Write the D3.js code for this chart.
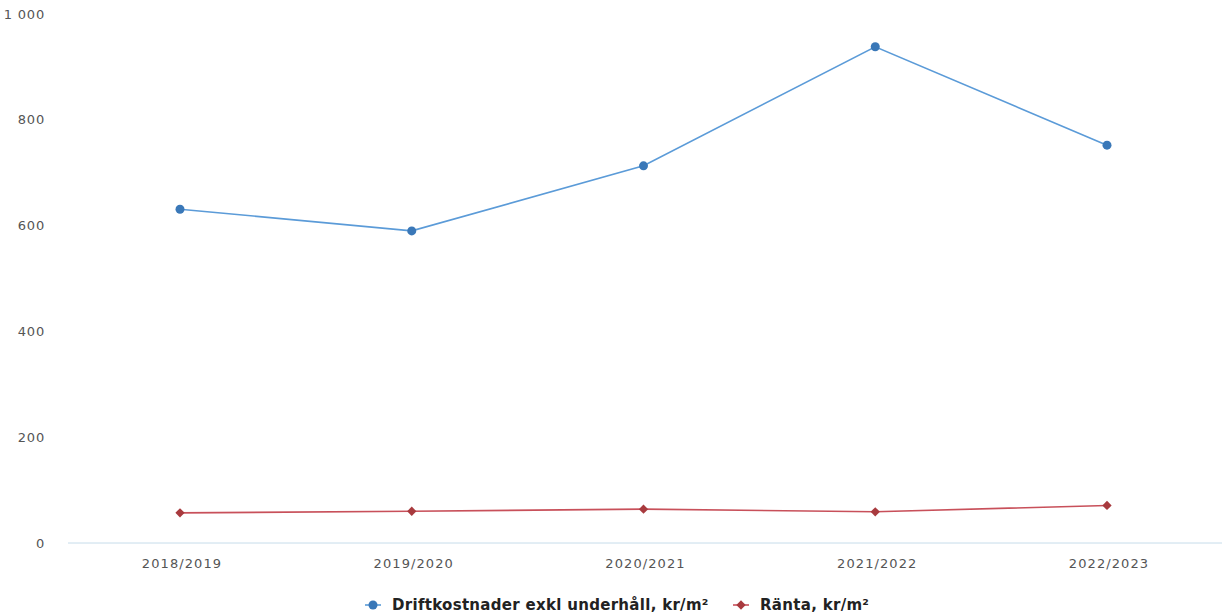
<!DOCTYPE html>
<html><head><meta charset="utf-8">
<script src="https://cdn.jsdelivr.net/npm/d3@7"></script>
<style>body{margin:0;background:#fff}svg{display:block}</style>
</head><body><svg id="c" width="1222" height="615"></svg>
<script>
const categories = ["2018/2019","2019/2020","2020/2021","2021/2022","2022/2023"];
const drift = [631, 590, 713, 938, 752];
const ranta = [57, 60, 64, 59, 71];
const yTicks = [0, 200, 400, 600, 800, 1000];
const seriesNames = ["Driftkostnader exkl underhåll, kr/m²", "Ränta, kr/m²"];

const svg = d3.select("#c");
const x = d3.scalePoint().domain(categories).range([180, 1107]);
const y = d3.scaleLinear().domain([0, 1000]).range([543, 14]);
const fmt = v => d3.format(",")(v).replace(/,/g, " ");

// y labels
svg.append("g").selectAll("text").data(yTicks).join("text")
  .attr("x", 45).attr("y", d => y(d)).attr("dy", "0.35em")
  .attr("text-anchor", "end").attr("fill", "#555")
  .style("font", "13px 'DejaVu Sans', sans-serif").style("letter-spacing","0.8px")
  .text(fmt);

// x axis line
svg.append("line").attr("x1", 68).attr("x2", 1222).attr("y1", y(0)).attr("y2", y(0))
  .attr("stroke", "#c6dcea").attr("stroke-width", 1);
svg.append("g").selectAll("text").data(categories).join("text")
  .attr("x", d => x(d) + 2).attr("y", 568).attr("text-anchor", "middle").attr("fill", "#555")
  .style("font", "13px 'DejaVu Sans', sans-serif").style("letter-spacing","1.1px")
  .text(d => d);

const line = d3.line().x((d, i) => x(categories[i])).y(d => y(d));
svg.append("path").datum(drift).attr("d", line).attr("fill", "none")
  .attr("stroke", "#5b9bd8").attr("stroke-width", 1.6);
svg.append("path").datum(ranta).attr("d", line).attr("fill", "none")
  .attr("stroke", "#c8505a").attr("stroke-width", 1.6);

svg.append("g").selectAll("circle").data(drift).join("circle")
  .attr("cx", (d, i) => x(categories[i])).attr("cy", d => y(d)).attr("r", 4.5)
  .attr("fill", "#3a78b8");
const diamond = d3.symbol().type(d3.symbolDiamond2).size(55);
svg.append("g").selectAll("path").data(ranta).join("path")
  .attr("transform", (d, i) => `translate(${x(categories[i])},${y(d)})`)
  .attr("d", diamond).attr("fill", "#a83a3e");

// legend
const lg = svg.append("g");
const items = [
  {name: seriesNames[0], lx: 365, stroke: "#5b9bd8", fill: "#3a78b8", sym: "circle"},
  {name: seriesNames[1], lx: 733, stroke: "#c8505a", fill: "#a83a3e", sym: "diamond"}
];
items.forEach(it => {
  const g = lg.append("g").attr("transform", `translate(${it.lx},605)`);
  g.append("line").attr("x1", 0).attr("x2", 16).attr("stroke", it.stroke).attr("stroke-width", 1.6);
  if (it.sym === "circle") g.append("circle").attr("cx", 8).attr("r", 4.5).attr("fill", it.fill);
  else g.append("path").attr("transform", "translate(8,0)").attr("d", diamond).attr("fill", it.fill);
  g.append("text").attr("x", 27).attr("dy", "0.35em").attr("fill", "#222")
    .style("font", "bold 15px 'DejaVu Sans', sans-serif").style("letter-spacing","0.3px").text(it.name);
});
</script></body></html>
